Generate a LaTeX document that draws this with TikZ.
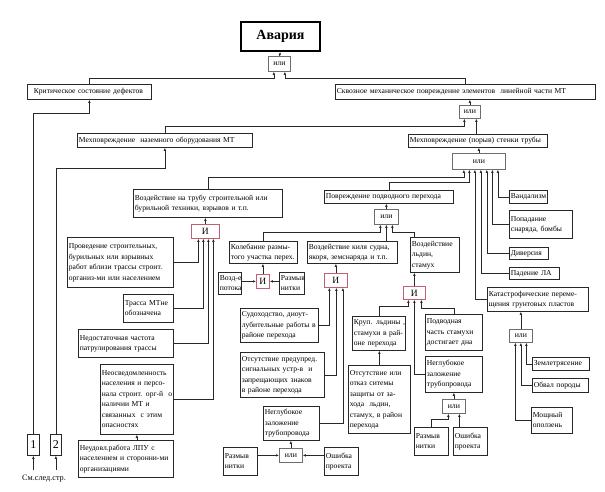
\documentclass[tikz,border=0pt]{standalone}
\usepackage{fontspec}
\setmainfont{Liberation Serif}
\usetikzlibrary{arrows.meta}
\definecolor{ln}{RGB}{40,40,40}
\definecolor{gred}{RGB}{195,95,115}
\definecolor{ggray}{RGB}{110,110,110}
\tikzset{
 box/.style={draw=ln, line width=0.75pt, inner xsep=1.5pt, inner ysep=0.5pt, align=left, font=\fontsize{7.6}{10.5}\selectfont},
 orgate/.style={draw=ggray, line width=0.75pt, inner sep=0pt, align=center, font=\fontsize{7.8}{9}\selectfont},
 andgate/.style={draw=gred, line width=0.8pt, inner sep=0pt, align=center, font=\fontsize{9.5}{10}\selectfont},
 con/.style={draw=ln, line width=0.65pt, -{Latex[length=3pt,width=2.5pt]}},
 topbox/.style={draw=black, line width=2pt, inner sep=0pt, font=\fontsize{14}{16}\selectfont\bfseries},
 numbox/.style={draw=ln, line width=0.75pt, inner sep=0pt, font=\fontsize{12}{14}\selectfont},
}
\newcommand\bx[7][box]{%
 \pgfmathsetmacro\bw{#5-#3}\pgfmathsetmacro\bh{#6-#4}\pgfmathsetmacro\tw{#5-#3-3}%
 \node[#1, anchor=north west, minimum width=\bw pt, minimum height=\bh pt, text width=\tw pt] (#2) at (#3,#4) {\begin{tabular}{@{}l@{}}#7\end{tabular}};}
\newcommand\gt[7][orgate]{%
 \pgfmathsetmacro\bw{#5-#3}\pgfmathsetmacro\bh{#6-#4}%
 \node[#1, anchor=north west, minimum width=\bw pt, minimum height=\bh pt] (#2) at (#3,#4) {#7};}
\begin{document}
\begin{tikzpicture}[x=1pt,y=-1pt]
\useasboundingbox (0,0) rectangle (605,491);
\fill[white] (0,0) rectangle (605,491);
\node[topbox, anchor=north west, minimum width=79pt, minimum height=29pt] (avaria) at (240,21) {Авария};
% gates
\gt{g0}{268}{56}{290}{71}{или}
\gt{g1}{459}{105}{480}{118}{или}
\gt{g2}{452}{153}{505}{169}{или}
\gt{g3}{374}{209}{398}{224}{или}
\gt[andgate]{gI1}{191}{224}{219}{238}{И}
\gt[andgate]{gI2}{256}{274}{269}{288}{И}
\gt[andgate]{gI3}{324}{273}{347}{287}{И}
\gt[andgate]{gI4}{403}{286}{425}{299}{И}
\gt{g4}{279}{448}{302}{462}{или}
\gt{g5}{442}{399}{465}{413}{или}
\gt{g6}{509}{329}{532}{342}{или}
\gt[numbox]{b1}{27}{434}{39}{455}{1}
\gt[numbox]{b2}{50}{434}{61}{455}{2}
% boxes
\bx{krit}{27}{84}{151}{99}{\hspace{5pt}Критическое состояние дефектов}
\bx{skv}{335}{84}{595}{99}{Сквозное механическое повреждение элементов \ линейной части МТ}
\bx{naz}{77}{133}{252}{147}{Мехповреждение \ наземного оборудования МТ}
\bx{por}{408}{134}{547}{147}{Мехповреждение (порыв) стенки трубы}
\bx{vozd}{133}{189}{282}{217}{Воздействие на трубу строительной или\\бурильной техники, взрывов и т.п.}
\bx{povr}{324}{190}{453}{203}{Повреждение подводного перехода}
\bx{vand}{509}{190}{547}{203}{Вандализм}
\bx{popad}{509}{210}{572}{238}{Попадание\\снаряда, бомбы}
\bx{div}{509}{247}{548}{259}{Диверсия}
\bx{pad}{509}{267}{559}{279}{Падение ЛА}
\bx{kat}{487}{287}{588}{311}{Катастрофические переме-\\щения грунтовых пластов}
\bx{prov}{67}{237}{173}{287}{Проведение строительных,\\бурильных или взрывных\\работ вблизи трассы строит.\\организ-ми или населением}
\bx{trassa}{123}{294}{173}{322}{Трасса МТне\\обозначена}
\bx{nedost}{78}{329}{173}{357}{Недостаточная частота\\патрулирования трассы}
\bx{neosv}{100}{364}{173}{434}{Неосведомленность\\населения и персо-\\нала строит. орг-й \ о\\наличии МТ и\\связанных \ с этим\\опасностях}
\bx{neud}{78}{440}{173}{477}{Неудовл.работа ЛПУ с\\населением и сторонни-ми\\организациями}
\bx{kol}{229}{241}{297}{263}{Колебание размы-\\того участка перех.}
\bx{kil}{307}{241}{397}{263}{Воздействие киля судна,\\якоря, земснаряда и т.п.}
\bx{ld}{410}{237}{459}{272}{Воздействие\\ льдин,\\ стамух}
\bx{vozdp}{218}{272}{241}{293}{Возд-е\\потока}
\bx{razm1}{279}{272}{304}{293}{Размыв\\нитки}
\bx{sud}{240}{308}{318}{342}{Судоходство, диоут-\\лубительные работы в\\районе перехода}
\bx{ots}{240}{352}{324}{397}{Отсутствие предупред.\\сигнальных устр-в \ и\\запрещающих знаков\\в районе перехода}
\bx{negl1}{263}{406}{319}{440}{Неглубокое\\заложение\\трубопровода}
\bx{razm2}{223}{447}{257}{475}{Размыв\\нитки}
\bx{osh1}{324}{447}{358}{475}{Ошибка\\проекта}
\bx{krup}{352}{316}{405}{350}{Круп. льдины ,\\стамухи в рай-\\оне перехода}
\bx{podv}{425}{314}{482}{350}{Подводная\\часть стамухи\\достигает дна}
\bx{otsk}{348}{365}{410}{433}{Отсутствие или\\отказ ситемы\\защиты от за-\\хода \ льдин,\\стамух, в район\\перехода}
\bx{negl2}{425}{356}{482}{392}{Неглубокое\\заложение\\трубопровода}
\bx{razm3}{414}{427}{448}{455}{Размыв\\нитки}
\bx{osh2}{453}{427}{487}{455}{Ошибка\\проекта}
\bx{zem}{532}{357}{589}{370}{Землетрясение}
\bx{obv}{532}{378}{588}{392}{Обвал породы}
\bx{mosh}{531}{407}{572}{433}{Мощный\\оползень}
\node[font=\fontsize{8.2}{10}\selectfont, inner sep=0pt] (sm) at (44,479) {См.след.стр.};
% input points
\coordinate (g0a) at ([xshift=-5.5pt]g0.south);
\coordinate (g0b) at ([xshift=5.5pt]g0.south);
\coordinate (g1a) at ([xshift=-5.5pt]g1.south);
\coordinate (g1b) at ([xshift=6.5pt]g1.south);
\coordinate (g2a) at ([xshift=-15pt]g2.south);
\coordinate (g2b) at ([xshift=-9.5pt]g2.south);
\coordinate (g2c) at ([xshift=-4pt]g2.south);
\coordinate (g2d) at ([xshift=2pt]g2.south);
\coordinate (g2e) at ([xshift=8pt]g2.south);
\coordinate (g2f) at ([xshift=13.5pt]g2.south);
\coordinate (g2g) at ([xshift=19pt]g2.south);
\coordinate (g3a) at ([xshift=-6pt]g3.south);
\coordinate (g3b) at (g3.south);
\coordinate (g3c) at ([xshift=6pt]g3.south);
\coordinate (gI1a) at ([xshift=-7pt]gI1.south);
\coordinate (gI1b) at ([xshift=-2pt]gI1.south);
\coordinate (gI1c) at ([xshift=3pt]gI1.south);
\coordinate (gI1d) at ([xshift=8pt]gI1.south);
\coordinate (gI3a) at ([xshift=-6.5pt]gI3.south);
\coordinate (gI3b) at ([xshift=0.5pt]gI3.south);
\coordinate (gI3c) at ([xshift=7pt]gI3.south);
\coordinate (gI4a) at ([xshift=-6pt]gI4.south);
\coordinate (gI4b) at (gI4.south);
\coordinate (gI4c) at ([xshift=7pt]gI4.south);
\coordinate (g5a) at ([xshift=-5.5pt]g5.south);
\coordinate (g5b) at ([xshift=5.5pt]g5.south);
\coordinate (g6a) at ([xshift=-5.5pt]g6.south);
\coordinate (g6b) at (g6.south);
\coordinate (g6c) at ([xshift=5.5pt]g6.south);
% bus levels
\coordinate (yA) at (0,78);
\coordinate (yB) at (0,126);
\coordinate (yC) at (0,177);
\coordinate (yD) at (0,182);
\coordinate (yE) at (0,232);
\coordinate (yF) at (0,306);
\coordinate (yG) at (0,308);
\coordinate (yH) at (0,419);
\coordinate (yI) at (0,113);
\coordinate (yJ) at (0,168);
\coordinate (c1) at ([yshift=-14pt]b1.south);
\coordinate (c2) at ([yshift=-14pt]b2.south);
% connectors
\draw[con] (g0.north) -- (avaria.south);
\draw[con] (krit.north) -- (krit.north |- yA) -| (g0a);
\draw[con] (skv.north) -- (skv.north |- yA) -| (g0b);
\draw[con] (g1.north) -- (g1.north |- skv.south);
\draw[con] (naz.north) -- (naz.north |- yB) -| (g1a);
\draw[con] (g1b |- por.north) -- (g1b);
\draw[con] (g2.north) -- (g2.north |- por.south);
\draw[con] (vozd.north) -- (vozd.north |- yC) -| (g2a);
\draw[con] (povr.north) -- (povr.north |- yD) -| (g2b);
\draw[con] (kat.west) -| (g2c);
\draw[con] (pad.west) -| (g2d);
\draw[con] (div.west) -| (g2e);
\draw[con] (popad.west) -| (g2f);
\draw[con] (vand.west) -| (g2g);
\draw[con] (gI1.north) -- (gI1.north |- vozd.south);
\draw[con] (prov.east) -| (gI1a);
\draw[con] (trassa.east) -| (gI1b);
\draw[con] (nedost.east) -| (gI1c);
\draw[con] (neosv.east) -| (gI1d);
\draw[con] (neosv.south |- neud.north) -- (neosv.south);
\draw[con] (g3.north) -- (g3.north |- povr.south);
\draw[con] (kol.north) -- (kol.north |- yE) -| (g3a);
\draw[con] (g3b |- kil.north) -- (g3b);
\draw[con] (gI4.north |- ld.north) -- (gI4.north |- yE) -| (g3c);
\draw[con] (gI4.north) -- (gI4.north |- ld.south);
\draw[con] (gI2.north) -- (gI2.north |- kol.south);
\draw[con] (vozdp.east |- gI2.west) -- (gI2.west);
\draw[con] (razm1.west |- gI2.east) -- (gI2.east);
\draw[con] (gI3.north) -- (gI3.north |- kil.south);
\draw[con] (sud.east) -| (gI3a);
\draw[con] (ots.east) -| (gI3b);
\draw[con] (negl1.east) -| (gI3c);
\draw[con] (g4.north) -- (g4.north |- negl1.south);
\draw[con] (razm2.east |- g4.west) -- (g4.west);
\draw[con] (osh1.west |- g4.east) -- (g4.east);
\draw[con] (krup.north) -- (krup.north |- yF) -| (gI4a);
\draw[con] (negl2.west) -| (gI4b);
\draw[con] (podv.north) -- (podv.north |- yG) -| (gI4c);
\draw[con] (otsk.north) -- (otsk.north |- krup.south);
\draw[con] (g5.north) -- (g5.north |- negl2.south);
\draw[con] (razm3.north) -- (razm3.north |- yH) -| (g5a);
\draw[con] (g5b |- osh2.north) -- (g5b);
\draw[con] (g6.north) -- (g6.north |- kat.south);
\draw[con] (zem.west) -| (g6c);
\draw[con] (obv.west) -| (g6b);
\draw[con] (mosh.west) -| (g6a);
\draw[con] (b1.north) -- (b1.north |- yI) -| (krit.south);
\draw[con] (b2.north) -- (b2.north |- yJ) -| (naz.south);
\draw[con] (c1) -- (b1.south);
\draw[con] (c2) -- (b2.south);
\end{tikzpicture}
\end{document}
